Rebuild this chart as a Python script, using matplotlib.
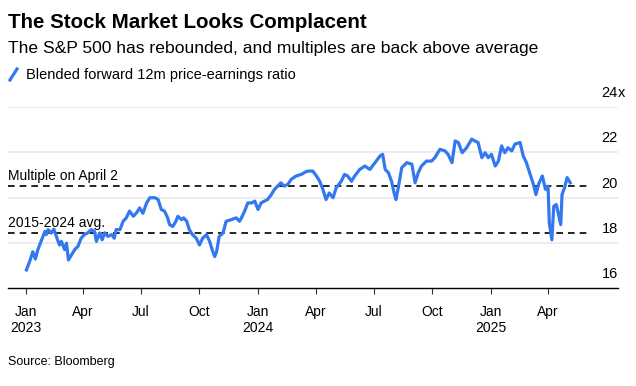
import numpy as np
import pandas as pd
import matplotlib
matplotlib.use("Agg")
import matplotlib.pyplot as plt
import matplotlib.dates as mdates
from matplotlib.transforms import offset_copy

plt.rcParams['font.family'] = ['Liberation Sans', 'DejaVu Sans']

# --- data ---
dates = [
    "2023-01-02", "2023-01-07", "2023-01-12", "2023-01-16", "2023-01-20", "2023-01-26",
    "2023-01-31", "2023-02-02", "2023-02-05", "2023-02-10", "2023-02-14", "2023-02-18",
    "2023-02-23", "2023-02-26", "2023-03-03", "2023-03-06", "2023-03-09", "2023-03-14",
    "2023-03-19", "2023-03-24", "2023-03-29", "2023-04-03", "2023-04-08", "2023-04-14",
    "2023-04-19", "2023-04-22", "2023-04-27", "2023-05-01", "2023-05-05", "2023-05-10",
    "2023-05-16", "2023-05-20", "2023-05-23", "2023-05-29", "2023-06-03", "2023-06-08",
    "2023-06-13", "2023-06-19", "2023-06-24", "2023-06-29", "2023-07-04", "2023-07-10",
    "2023-07-15", "2023-07-23", "2023-07-28", "2023-08-02", "2023-08-07", "2023-08-12",
    "2023-08-15", "2023-08-20", "2023-08-25", "2023-08-28", "2023-09-03", "2023-09-06",
    "2023-09-11", "2023-09-15", "2023-09-20", "2023-09-26", "2023-10-01", "2023-10-06",
    "2023-10-12", "2023-10-17", "2023-10-21", "2023-10-25", "2023-10-28", "2023-11-01",
    "2023-11-07", "2023-11-12", "2023-11-20", "2023-11-28", "2023-12-03", "2023-12-06",
    "2023-12-11", "2023-12-16", "2023-12-22", "2023-12-27", "2024-01-01", "2024-01-06",
    "2024-01-11", "2024-01-16", "2024-01-22", "2024-01-27", "2024-02-01", "2024-02-06",
    "2024-02-11", "2024-02-17", "2024-02-22", "2024-03-01", "2024-03-09", "2024-03-17",
    "2024-03-22", "2024-03-27", "2024-04-02", "2024-04-07", "2024-04-12", "2024-04-17",
    "2024-04-22", "2024-04-28", "2024-05-03", "2024-05-11", "2024-05-16", "2024-05-21",
    "2024-05-27", "2024-06-01", "2024-06-09", "2024-06-17", "2024-06-25", "2024-07-03",
    "2024-07-11", "2024-07-15", "2024-07-19", "2024-07-24", "2024-07-29", "2024-08-02",
    "2024-08-05", "2024-08-09", "2024-08-14", "2024-08-22", "2024-08-30", "2024-09-04",
    "2024-09-09", "2024-09-14", "2024-09-22", "2024-09-30", "2024-10-05", "2024-10-13",
    "2024-10-21", "2024-10-26", "2024-11-01", "2024-11-06", "2024-11-11", "2024-11-17",
    "2024-11-24", "2024-12-02", "2024-12-07", "2024-12-12", "2024-12-18", "2024-12-23",
    "2024-12-28", "2025-01-02", "2025-01-08", "2025-01-13", "2025-01-18", "2025-01-23",
    "2025-01-28", "2025-02-03", "2025-02-08", "2025-02-16", "2025-02-21", "2025-02-26",
    "2025-03-04", "2025-03-09", "2025-03-13", "2025-03-17", "2025-03-23", "2025-03-28",
    "2025-04-01", "2025-04-03", "2025-04-07", "2025-04-10", "2025-04-14", "2025-04-21",
    "2025-04-23", "2025-04-27", "2025-05-01", "2025-05-06",
]
pe_ratio = [
    16.80, 17.17, 17.60, 17.28, 17.70, 18.13,
    18.50, 18.36, 18.58, 18.43, 18.60, 18.28,
    17.90, 18.06, 17.70, 17.98, 17.24, 17.47,
    17.70, 17.84, 18.20, 18.36, 18.43, 18.58,
    18.50, 18.06, 18.43, 18.13, 18.44, 18.28,
    18.36, 18.20, 18.58, 18.58, 18.95, 19.10,
    19.40, 19.17, 19.32, 19.54, 19.30, 19.76,
    19.99, 19.99, 19.91, 19.47, 19.40, 19.10,
    18.80, 18.72, 18.95, 19.17, 19.02, 19.10,
    18.95, 18.58, 18.36, 18.20, 17.90, 18.20,
    18.36, 18.06, 17.69, 17.39, 17.61, 18.28,
    18.43, 18.95, 19.02, 19.10, 18.95, 19.10,
    19.40, 19.76, 19.76, 19.84, 19.47, 19.76,
    19.84, 19.91, 20.13, 20.36, 20.50, 20.65,
    20.50, 20.58, 20.80, 20.95, 21.02, 21.15,
    21.17, 21.17, 20.95, 20.72, 20.36, 19.91,
    20.20, 19.99, 20.43, 20.72, 21.02, 20.95,
    20.72, 20.95, 21.24, 21.39, 21.24, 21.54,
    21.84, 21.91, 21.24, 21.10, 20.72, 20.20,
    19.91, 20.50, 21.32, 21.54, 21.47, 20.65,
    21.10, 21.39, 21.61, 21.61, 21.76, 22.13,
    22.06, 21.90, 21.54, 22.50, 22.43, 21.98,
    22.20, 22.58, 22.50, 22.43, 21.76, 21.98,
    21.76, 21.91, 21.39, 21.61, 22.28, 21.98,
    22.20, 22.06, 22.36, 22.43, 21.84, 21.54,
    21.02, 20.58, 20.13, 20.58, 20.95, 20.36,
    20.50, 18.88, 18.13, 19.61, 19.69, 18.80,
    20.13, 20.43, 20.88, 20.65,
]
april2_multiple = 20.5
avg_2015_2024 = 18.42

y_ticks = [16, 18, 20, 22, 24]
x_ticks = ["2023-01-01", "2023-04-01", "2023-07-01", "2023-10-01",
           "2024-01-01", "2024-04-01", "2024-07-01", "2024-10-01",
           "2025-01-01", "2025-04-01"]
x_tick_labels = ["Jan\n2023", "Apr", "Jul", "Oct", "Jan\n2024",
                 "Apr", "Jul", "Oct", "Jan\n2025", "Apr"]

# --- figure ---
W, H = 636, 386
fig = plt.figure(figsize=(W / 100, H / 100), dpi=100)
ax = fig.add_axes([8 / W, (H - 288) / H, 610 / W, 181 / H])

blue = "#3478f0"
x = pd.to_datetime(dates)
ax.plot(x, pe_ratio, color=blue, lw=2.3, solid_joinstyle="round", zorder=3)

ax.set_xlim(pd.Timestamp("2022-12-04"), pd.Timestamp("2025-07-20"))
ax.set_ylim(16, 24)

# gridlines
for v in y_ticks[1:]:
    ax.axhline(v, color="#e8e8e8", lw=1.1, zorder=1)

# reference lines
ax.axhline(april2_multiple, xmax=0.95, color="black", lw=1.2, ls=(0, (4, 3)), zorder=2)
ax.axhline(avg_2015_2024, xmax=0.95, color="black", lw=1.2, ls=(0, (4, 3)), zorder=2)
ax.text(0, april2_multiple + 0.15, "Multiple on April 2", transform=ax.get_yaxis_transform(),
        fontsize=10, va="bottom", ha="left")
ax.text(0, avg_2015_2024 + 0.15, "2015-2024 avg.", transform=ax.get_yaxis_transform(),
        fontsize=10, va="bottom", ha="left")

# y labels sitting above the gridlines, right side
ylab_tr = offset_copy(ax.get_yaxis_transform(), fig=fig, x=0, y=5, units="points")
for v in y_ticks:
    ax.text(1.0, v, str(v), transform=ylab_tr, ha="right", va="bottom", fontsize=10.5)
ax.text(1.0, 24, "x", transform=ylab_tr, ha="left", va="bottom", fontsize=10.5)

for s in ["top", "right", "left"]:
    ax.spines[s].set_visible(False)
ax.spines["bottom"].set_color("black")
ax.spines["bottom"].set_linewidth(1.0)
ax.set_yticks([])
ax.set_xticks(pd.to_datetime(x_ticks))
ax.set_xticklabels(x_tick_labels, fontsize=10, linespacing=1.15)
ax.tick_params(axis="x", length=4.5, width=0.8, color="#333333", pad=8)

# header
fig.text(8 / W, 1 - 22 / H, "The Stock Market Looks Complacent", fontsize=14.8,
         fontweight="bold", va="center", ha="left")
fig.text(8 / W, 1 - 49 / H, "The S&P 500 has rebounded, and multiples are back above average",
         fontsize=12.6, va="center", ha="left")
fig.lines.append(plt.Line2D([10 / W, 17 / W], [1 - 80 / H, 1 - 69 / H], color=blue, lw=2.3,
                            transform=fig.transFigure))
fig.text(26 / W, 1 - 74.5 / H, "Blended forward 12m price-earnings ratio", fontsize=10.5,
         va="center", ha="left")
fig.text(8 / W, 1 - 362 / H, "Source: Bloomberg", fontsize=9, va="center", ha="left")

fig.savefig("out.png", dpi=100, facecolor="white")
